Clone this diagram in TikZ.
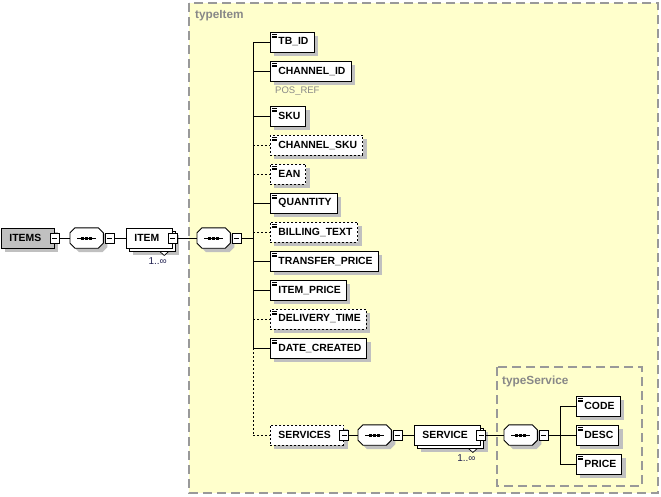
\documentclass[tikz,border=0pt]{standalone}
\usepackage{fontspec}
\setmainfont{Liberation Sans}
\usetikzlibrary{positioning,shadows,calc}

\definecolor{typefill}{HTML}{FFFFCC}
\definecolor{typeedge}{HTML}{999999}
\definecolor{typetext}{HTML}{888888}
\definecolor{shadowgray}{HTML}{C0C0C0}
\definecolor{rootfill}{HTML}{C0C0C0}
\definecolor{occurcolor}{HTML}{202050}

% octagon body of a sequence compositor, drawn over its (invisible) node
\newcommand{\seqbody}[1]{%
  \path[seqshape] ([xshift=5pt]#1.north west) -- ([xshift=-5pt]#1.north east)
    -- ([yshift=-5pt]#1.north east) -- ([yshift=5pt]#1.south east)
    -- ([xshift=-5pt]#1.south east) -- ([xshift=5pt]#1.south west)
    -- ([yshift=5pt]#1.south west) -- ([yshift=-5pt]#1.north west) -- cycle;
  \draw[line width=0.8pt] ([xshift=7pt]#1.west) -- ([xshift=-7pt]#1.east);
  \foreach \dx in {-4,0,4}
    \fill[black] ([shift={(\dx pt-1.5pt,-1.5pt)}]#1.center) rectangle ++(3pt,3pt);
}

\begin{document}
\begin{tikzpicture}[x=1pt, y=-1pt,
    typebox/.style={draw=typeedge, fill=typefill, line width=1.2pt, dash pattern=on 9pt off 5pt},
    typelabel/.style={text=typetext, font=\fontsize{11.8}{14}\selectfont\bfseries, anchor=west, inner sep=0pt},
    note/.style={text=typetext, font=\fontsize{9.5}{11}\selectfont, anchor=west, inner sep=0pt},
    shadowed/.style={drop shadow={shadow xshift=4pt, shadow yshift=-4pt, fill=shadowgray, opacity=1}},
    box/.style={draw=black, fill=white, line width=0.9pt, minimum height=20pt, inner xsep=5.5pt, inner ysep=0pt, anchor=west, font=\fontsize{10.4}{12}\selectfont\bfseries, execute at begin node=\hspace*{2.5pt}},
    elem/.style={box, shadowed},
    leaf/.style={elem, path picture={\foreach \dy in {2.2,3.9,5.6} \draw[solid, line width=0.6pt] ([shift={(2pt,-\dy pt)}]path picture bounding box.north west) -- ++(5pt,0pt);}},
    optional/.style={leaf, dash pattern=on 2pt off 2pt},
    parent/.style={elem, execute at end node=\hspace*{7.5pt}},
    optparent/.style={parent, dash pattern=on 2pt off 2pt},
    front/.style={box, execute at end node=\hspace*{7.5pt}},
    notch/.style={draw=black, fill=white, line width=0.7pt},
    occurs/.style={font=\fontsize{10}{12}\selectfont, text=occurcolor, inner sep=0pt},
    collapse/.style={draw=black, fill=white, line width=0.8pt, minimum width=9pt, minimum height=10pt, inner sep=0pt,
        path picture={\draw[solid, line width=0.8pt] ([xshift=2pt]path picture bounding box.west) -- ([xshift=-2pt]path picture bounding box.east);}},
    sequence/.style={minimum width=33pt, minimum height=20pt, inner sep=0pt, anchor=west},
    seqshape/.style={shadowed, draw=black, fill=white, line width=0.9pt},
    wire/.style={line width=0.8pt},
    leaf wire/.style={wire},
    optional wire/.style={wire, dash pattern=on 2pt off 2pt},
]
\useasboundingbox (0,0) rectangle (661,496);

% type boxes
\draw[typebox] (189,3) rectangle (658,493);
\node[typelabel] (item-type) at (195,16) {typeItem};
\draw[typebox] (497,367) rectangle (642,486);
\node[typelabel] (service-type) at (502,381) {typeService};

% root, ITEM and its sequence
\node[parent, fill=rootfill] (items) at (1,238) {ITEMS};
\node[collapse] (items-m) at (items.east) {};
\node[sequence] (seq-items) at (70,238) {};
\seqbody{seq-items}
\node[collapse] (seq-items-m) at ([xshift=6pt]seq-items.east) {};
\node[parent] (item-back) at (129,241) {\phantom{ITEM}};
\node[front] (item) at (126,238) {ITEM};
\node[collapse] (item-m) at (item.east) {};
\draw[notch] ([xshift=-16pt]item-back.south east) -- ++(9,0) -- ++(-4.5,4) -- cycle;
\node[occurs] (item-occurs) at ([shift={(-18,10)}]item-back.south east) {1..∞};
\node[sequence] (seq-item) at (197,238) {};
\seqbody{seq-item}
\node[collapse] (seq-item-m) at ([xshift=6pt]seq-item.east) {};
\coordinate (item-hub) at (253,238);

% children of typeItem
\foreach \name/\txt/\yy/\sty in {tbid/TB\_ID/42/leaf, channelid/CHANNEL\_ID/71/leaf,
    sku/SKU/116/leaf, channelsku/CHANNEL\_SKU/145/optional, ean/EAN/174/optional,
    quantity/QUANTITY/203/leaf, billingtext/BILLING\_TEXT/232/optional,
    transferprice/TRANSFER\_PRICE/261/leaf, itemprice/ITEM\_PRICE/290/leaf,
    deliverytime/DELIVERY\_TIME/319/optional, datecreated/DATE\_CREATED/348/leaf}
    \node[\sty] (\name) at (270,\yy) {\txt};
\node[note] (posref) at (275,91) {POS\_REF};

% SERVICES branch
\node[optparent] (services) at (270,435) {SERVICES};
\node[collapse] (services-m) at (services.east) {};
\node[sequence] (seq-services) at (358,435) {};
\seqbody{seq-services}
\node[collapse] (seq-services-m) at ([xshift=6pt]seq-services.east) {};
\node[parent] (service-back) at (417,438) {\phantom{SERVICE}};
\node[front] (service) at (414,435) {SERVICE};
\node[collapse] (service-m) at (service.east) {};
\draw[notch] ([xshift=-16pt]service-back.south east) -- ++(9,0) -- ++(-4.5,4) -- cycle;
\node[occurs] (service-occurs) at ([shift={(-18,10)}]service-back.south east) {1..∞};
\node[sequence] (seq-service) at (504,435) {};
\seqbody{seq-service}
\node[collapse] (seq-service-m) at ([xshift=6pt]seq-service.east) {};
\coordinate (service-hub) at (560,435);
\foreach \name/\txt/\yy in {code/CODE/406, desc/DESC/435, price/PRICE/464}
    \node[leaf] (\name) at (576,\yy) {\txt};

% wires
\draw[wire] (items-m.east) -- (seq-items.west);
\draw[wire] (seq-items-m.east) -- (item.west);
\draw[wire] (item-m.east) -- (seq-item.west);
\draw[wire] (seq-item-m.east) -- (item-hub);
\draw[wire] (tbid.west -| item-hub) -- (datecreated.west -| item-hub);
\draw[optional wire] (datecreated.west -| item-hub) -- (services.west -| item-hub);
\foreach \name/\sty in {tbid/leaf, channelid/leaf, sku/leaf, channelsku/optional, ean/optional,
    quantity/leaf, billingtext/optional, transferprice/leaf, itemprice/leaf,
    deliverytime/optional, datecreated/leaf, services/optional}
    \draw[\sty\space wire] (\name.west -| item-hub) -- (\name.west);
\draw[wire] (services-m.east) -- (seq-services.west);
\draw[wire] (seq-services-m.east) -- (service.west);
\draw[wire] (service-m.east) -- (seq-service.west);
\draw[wire] (seq-service-m.east) -- (service-hub);
\draw[wire] (code.west -| service-hub) -- (price.west -| service-hub);
\foreach \name in {code, desc, price}
    \draw[wire] (\name.west -| service-hub) -- (\name.west);

\end{tikzpicture}
\end{document}
